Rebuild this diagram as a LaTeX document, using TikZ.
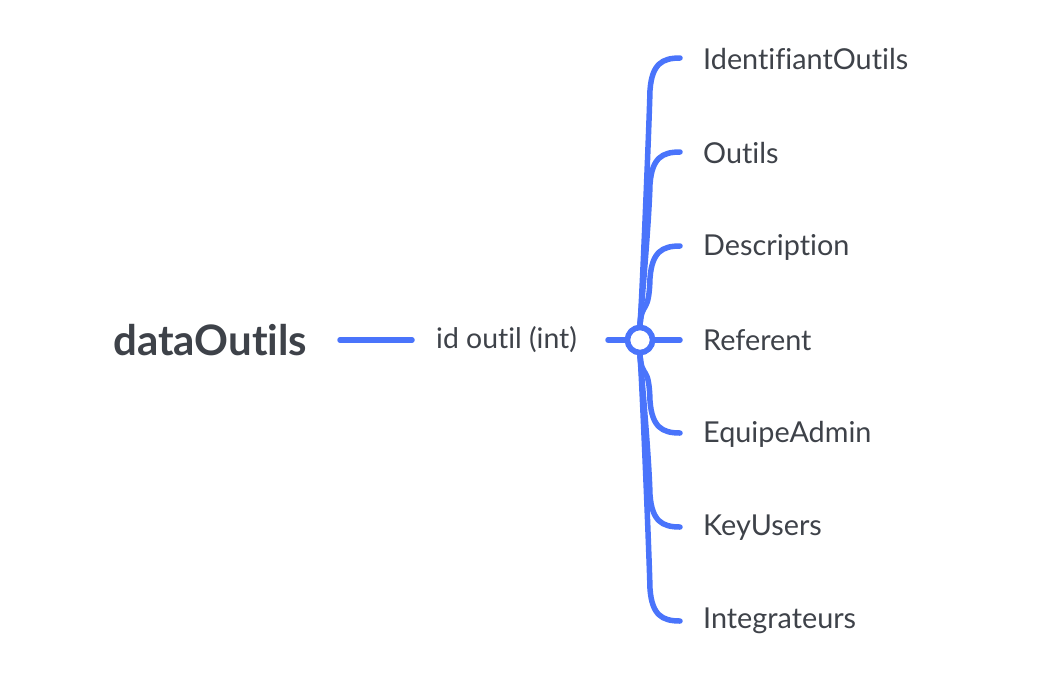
\documentclass[tikz,border=0pt]{standalone}
\usepackage{fontspec}
\setmainfont{Lato}[Ligatures=NoCommon]
\usetikzlibrary{calc}
\definecolor{branch}{HTML}{4A74FB}
\definecolor{txt}{HTML}{3E4249}
\begin{document}
\begin{tikzpicture}[x=1pt,y=-1pt,
  conn/.style={draw=branch,line width=5.5pt,line cap=round},
  leaf/.style={anchor=west,inner sep=0pt,text=txt,font=\fontsize{28.8}{32}\selectfont},
  hubstyle/.style={circle,draw=branch,line width=5.5pt,fill=white,minimum size=25pt,inner sep=0pt},
  ]
\useasboundingbox (0,0) rectangle (1056,697);
\node[anchor=west,inner sep=0pt,text=txt,font=\fontsize{42}{46}\selectfont\bfseries] (root) at (113,340) {dataOutils};
\coordinate (a1) at (340,340);
\coordinate (a2) at (412,340);
\draw[conn] (a1) -- (a2);
\node[anchor=west,inner sep=0pt,text=txt,font=\fontsize{28.4}{32}\selectfont] (key) at (436,340) {id outil (int)};
\coordinate (b1) at (608,340);
\node[hubstyle] (hub) at (640,340) {};
\draw[conn] (b1) -- (hub.west);
\foreach \n/\t/\y in {l1/IdentifiantOutils/59,l2/Outils/153,l3/Description/247,l4/Referent/340,l5/EquipeAdmin/434,l6/KeyUsers/528,l7/Integrateurs/621}{
  \node[leaf] (\n) at (703,\y) {\t};
}
\foreach \n/\y in {l1/58,l2/152,l3/246,l4/340,l5/433,l6/527,l7/621}{
  \coordinate (e\n) at (680,\y);
}
\draw[conn] (hub.east) -- (el4);
\foreach \n in {l1,l2,l3}{
  \draw[conn] (hub.north) .. controls ($(hub.north)+(2,-25)$) and ($(e\n)+(-31,70)$) .. ($(e\n)+(-30,32)$) .. controls ($(e\n)+(-28,6)$) and ($(e\n)+(-18,0)$) .. (e\n);
}
\foreach \n in {l5,l6,l7}{
  \draw[conn] (hub.south) .. controls ($(hub.south)+(2,25)$) and ($(e\n)+(-31,-70)$) .. ($(e\n)+(-30,-32)$) .. controls ($(e\n)+(-28,-6)$) and ($(e\n)+(-18,0)$) .. (e\n);
}
\node[hubstyle] at (hub) {};
\end{tikzpicture}
\end{document}
